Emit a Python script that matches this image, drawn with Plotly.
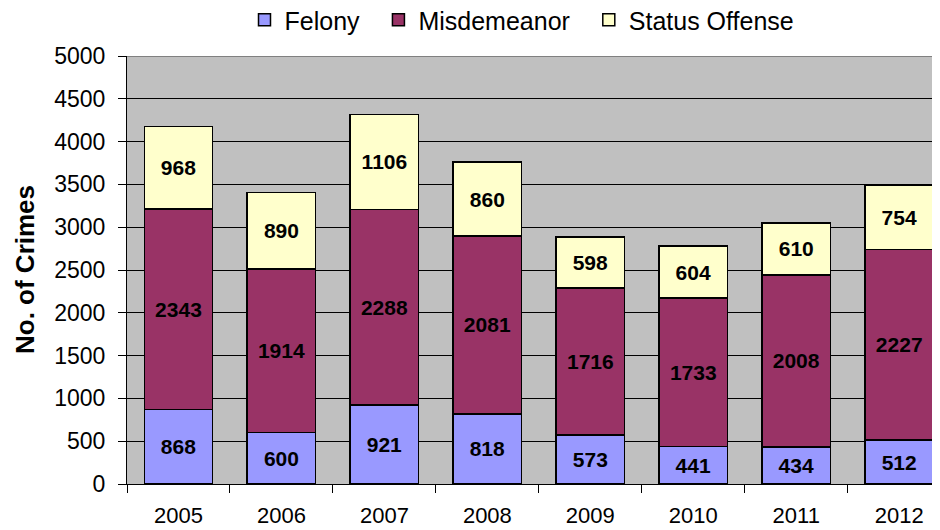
import plotly.graph_objects as go

years = ["2005", "2006", "2007", "2008", "2009", "2010", "2011", "2012"]
felony = [868, 600, 921, 818, 573, 441, 434, 512]
misdemeanor = [2343, 1914, 2288, 2081, 1716, 1733, 2008, 2227]
status = [968, 890, 1106, 860, 598, 604, 610, 754]

NB = "\u00a0\u00a0"
series = [
    ("Felony" + NB, felony, "#9999FF"),
    ("Misdemeanor" + NB, misdemeanor, "#993366"),
    ("Status Offense", status, "#FFFFCC"),
]

FONT = "Liberation Sans"

# page body has an 8px margin, so the figure is sized to fill the 940x530 window
W, H = 932, 522
ML, MT, MB, MR = 119, 48, 46, 0
PW = W - ML - MR
PH = H - MT - MB

fig = go.Figure()
for name, vals, color in series:
    fig.add_trace(go.Bar(
        x=years, y=vals, name=name,
        marker=dict(color=color, line=dict(color="black", width=1.5)),
        texttemplate="<b>%{y}</b>",
        textposition="inside",
        insidetextanchor="middle",
        textangle=0,
        textfont=dict(size=21, color="black", family=FONT),
        width=0.665,
    ))

fig.update_layout(
    width=W, height=H,
    barmode="stack",
    margin=dict(l=ML, r=MR, t=MT, b=MB, autoexpand=False),
    paper_bgcolor="white",
    plot_bgcolor="#C0C0C0",
    font=dict(family=FONT, size=22, color="black"),
    showlegend=True,
    legend=dict(orientation="h", x=(522 - 8 - ML) / PW, xanchor="center",
                y=1 + (MT - 12) / PH, yanchor="middle",
                font=dict(size=25, family=FONT), traceorder="normal", itemwidth=30),
    xaxis=dict(
        type="category", range=[-0.5, -0.5 + PW / 102.96], tickson="boundaries",
        ticks="outside", ticklen=8, tickcolor="black", showgrid=False,
        showline=True, linecolor="black", linewidth=1, automargin=False,
        ticklabelstandoff=12, tickfont=dict(size=22, family=FONT),
    ),
    yaxis=dict(
        range=[0, 5000], dtick=500, tickformat="d",
        ticks="outside", ticklen=8, tickcolor="black",
        showgrid=True, gridcolor="black", gridwidth=1,
        showline=True, linecolor="black", linewidth=1, automargin=False,
        ticklabelstandoff=8,
        zeroline=False, tickfont=dict(size=23, family=FONT),
    ),
    annotations=[dict(
        text="<b>No. of Crimes</b>", textangle=-90, xref="paper", yref="paper",
        x=(25 - 8 - ML) / PW, y=0.5, xanchor="center", yanchor="middle",
        showarrow=False, font=dict(size=26, family=FONT),
    )],
    shapes=[dict(type="line", xref="paper", yref="y", x0=0, x1=1, y0=5000, y1=5000,
                 line=dict(color="#808080", width=2))],
)

fig.write_html("out.html")
